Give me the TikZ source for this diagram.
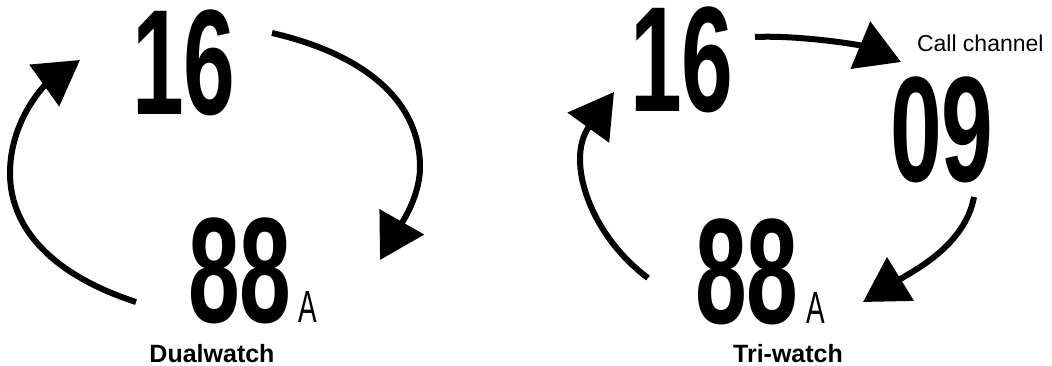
\documentclass[tikz,border=0pt]{standalone}
\usepackage{fontspec}
\setmainfont{Liberation Sans}
\usepackage{graphicx}
\usetikzlibrary{arrows.meta}

% condensed LCD-like digits
\newcommand{\narrowdigits}[1]{\scalebox{0.62}[1]{#1}}

\begin{document}
\begin{tikzpicture}[
    x=1pt, y=-1pt,
    every node/.style={inner sep=0pt, outer sep=0pt},
    digit/.style={font=\fontsize{150}{150}\selectfont\bfseries, anchor=base},
    subletter/.style={font=\fontsize{45}{45}\selectfont, anchor=base},
    caption/.style={font=\fontsize{25}{25}\selectfont\bfseries, anchor=base},
    note/.style={font=\fontsize{23}{23}\selectfont, anchor=base west},
    cyclearrow/.style={draw, line width=6pt, -{Triangle[length=44pt,width=50pt]}}
]
\useasboundingbox (0,0) rectangle (1052,366);

% Dualwatch
\node[digit] (sixteenL) at (184,115) {\narrowdigits{16}};
\node[digit] (eightyL) at (240,322) {\narrowdigits{88}};
\node[subletter] (subL) at (308,322) {\narrowdigits{A}};
\node[caption] (dual) at (212,362) {Dualwatch};

\coordinate (dStartR) at (272,33);
\coordinate (dMidR) at (420,167);
\coordinate (dEndR) at (380,260);
\coordinate (dStartL) at (136,302);
\coordinate (dMidL) at (10,173);
\coordinate (dEndL) at (80,60);

\draw[cyclearrow] (dStartR) .. controls (355,52) and (420,95) .. (dMidR)
    .. controls (420,200) and (396,232) .. (dEndR);
\draw[cyclearrow] (dStartL) .. controls (62,278) and (10,235) .. (dMidL)
    .. controls (10,120) and (45,85) .. (dEndL);

% Tri-watch
\node[digit] (sixteenR) at (682,112) {\narrowdigits{16}};
\node[digit] (nine) at (942,182) {\narrowdigits{09}};
\node[note] (callch) at (917,52) {Call channel};
\node[digit] (eightyR) at (747,323) {\narrowdigits{88}};
\node[subletter] (subR) at (816,323) {\narrowdigits{A}};
\node[caption] (tri) at (788,362) {Tri-watch};

\coordinate (tStartA) at (755,37);
\coordinate (tEndA) at (901,62);
\coordinate (tStartB) at (974,197);
\coordinate (tEndB) at (863,302);
\coordinate (tStartC) at (648,278);
\coordinate (tEndC) at (614,92);

\draw[cyclearrow] (tStartA) .. controls (800,35) and (860,45) .. (tEndA);
\draw[cyclearrow] (tStartB) .. controls (965,245) and (915,270) .. (tEndB);
\draw[cyclearrow] (tStartC) .. controls (590,235) and (565,160) .. (tEndC);
\end{tikzpicture}
\end{document}
